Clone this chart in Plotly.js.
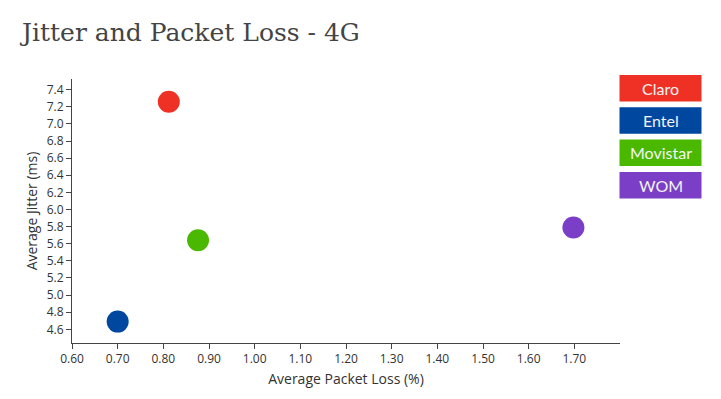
<!DOCTYPE html>
<html>
<head>
<meta charset="utf-8">
<script src="https://cdn.plot.ly/plotly-3.0.1.min.js"></script>
<style>html,body{margin:0;padding:0;background:#fff;}#chart{width:721px;height:399px;}</style>
</head>
<body>
<div id="chart"></div>
<script>
const operators = ["Claro", "Entel", "Movistar", "WOM"];
const packetLoss = [0.812, 0.700, 0.876, 1.698];
const jitter = [7.26, 4.69, 5.64, 5.79];
const colors = ["#EE3124", "#0047A0", "#4BB800", "#7B3FC7"];
const xTicks = [0.6, 0.7, 0.8, 0.9, 1.0, 1.1, 1.2, 1.3, 1.4, 1.5, 1.6, 1.7];
const yTicks = [4.6, 4.8, 5.0, 5.2, 5.4, 5.6, 5.8, 6.0, 6.2, 6.4, 6.6, 6.8, 7.0, 7.2, 7.4];

const traces = operators.map((name, i) => ({
  type: "scatter",
  mode: "markers",
  name: name,
  x: [packetLoss[i]],
  y: [jitter[i]],
  marker: {size: 22, color: colors[i], line: {width: 0}},
  showlegend: false,
  hoverinfo: "x+y+name"
}));

const plotL = 72, plotR = 620, plotT = 79, plotB = 343;
const W = 721, H = 399;
const pw = plotR - plotL, ph = plotB - plotT;
const px = p => (p - plotL) / pw;
const py = p => (plotB - p) / ph;

const shapes = [], annotations = [];
operators.forEach((name, i) => {
  const top = 75 + i * 32.3, bot = top + 26.5;
  shapes.push({type: "rect", xref: "paper", yref: "paper",
    x0: px(619.5), x1: px(701.5), y0: py(bot), y1: py(top),
    fillcolor: colors[i], line: {width: 0}, layer: "above"});
  annotations.push({xref: "paper", yref: "paper", x: px(660.5), y: py((top + bot) / 2),
    text: name, showarrow: false, xanchor: "center", yanchor: "middle",
    font: {family: "Lato, 'Open Sans', sans-serif", size: 16, color: "#f4f4f4"}});
});

const tickFont = {family: "'Open Sans', sans-serif", size: 12, color: "#333"};
const titleFont = {family: "'Open Sans', sans-serif", size: 14, color: "#333"};

const layout = {
  width: W, height: H,
  margin: {l: plotL, r: W - plotR, t: plotT, b: H - plotB, pad: 0},
  paper_bgcolor: "#ffffff", plot_bgcolor: "#ffffff",
  title: {text: "Jitter and Packet Loss - 4G", x: 22 / W, xanchor: "left", y: 1 - 32 / H, yanchor: "middle",
    font: {family: "'DejaVu Serif', serif", size: 25, color: "#444444", weight: 300}},
  xaxis: {range: [0.6, 1.8], tickmode: "array", tickvals: xTicks, ticktext: xTicks.map(v => v.toFixed(2)),
    showgrid: false, zeroline: false, showline: true, linecolor: "#444", linewidth: 1,
    ticks: "outside", ticklen: 5, tickcolor: "#444",
    tickfont: tickFont,
    title: {text: "Average Packet Loss (%)", standoff: 7, font: titleFont}},
  yaxis: {range: [4.44, 7.525], tickmode: "array", tickvals: yTicks, ticktext: yTicks.map(v => v.toFixed(1)),
    showgrid: false, zeroline: false, showline: true, linecolor: "#444", linewidth: 1,
    ticks: "outside", ticklen: 5, tickcolor: "#444",
    tickfont: tickFont,
    title: {text: "Average Jitter (ms)", standoff: 5, font: titleFont}},
  shapes: shapes,
  annotations: annotations,
  showlegend: false
};

Plotly.newPlot("chart", traces, layout, {displayModeBar: false, staticPlot: true});
</script>
</body>
</html>
